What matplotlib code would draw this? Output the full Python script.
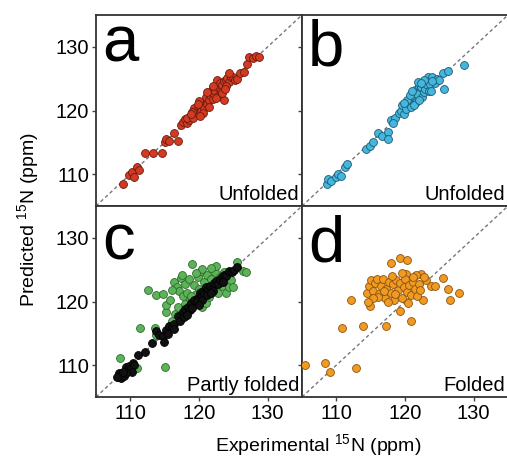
import matplotlib
matplotlib.use("Agg")
import matplotlib.pyplot as plt

plt.rcParams['font.family'] = ['Liberation Sans', 'DejaVu Sans']
plt.rcParams['mathtext.fontset'] = 'custom'
plt.rcParams['mathtext.rm'] = 'Liberation Sans'
plt.rcParams['mathtext.it'] = 'Liberation Sans:italic'
plt.rcParams['mathtext.bf'] = 'Liberation Sans:bold'

# ---------------- data ----------------
a_x = [108.9, 109.8, 110.2, 110.5, 110.9, 111.2, 112.1, 113.3, 114.6, 115.0, 115.2, 115.6, 116.4, 116.9,
       117.4, 117.6, 117.9, 118.3, 118.6, 118.2, 119.1, 119.3, 119.6, 119.9, 120.1, 120.3, 120.5, 120.8,
       121.0, 121.2, 121.4, 121.6, 121.9, 122.0, 122.2, 122.4, 122.6, 122.7, 122.9, 123.0, 123.2, 123.4,
       123.6, 123.7, 123.9, 124.1, 124.3, 124.6, 124.9, 125.2, 125.6, 126.0, 126.6, 127.0, 127.3, 127.9,
       128.3, 128.8, 119.0, 120.0, 121.5, 122.5, 123.3, 124.0, 121.1, 120.6, 119.8, 122.1, 123.8, 124.4,
       118.9, 120.2]
a_y = [108.4, 109.8, 110.3, 109.6, 111.1, 110.6, 113.3, 113.3, 113.3, 115.0, 115.6, 115.2, 116.4, 115.2,
       117.7, 118.2, 118.6, 118.0, 118.5, 118.9, 118.8, 120.4, 120.0, 119.6, 120.5, 120.0, 121.0, 120.4,
       122.1, 121.0, 121.6, 122.4, 123.2, 121.8, 122.6, 123.0, 124.8, 122.2, 123.5, 124.3, 123.0, 124.0,
       124.6, 121.6, 124.8, 125.1, 124.4, 125.3, 125.3, 124.8, 125.0, 125.9, 126.1, 127.3, 128.4, 128.2,
       128.5, 128.4, 119.8, 121.5, 120.6, 121.9, 122.8, 123.9, 122.9, 119.6, 121.0, 123.9, 123.4, 125.9,
       119.4, 119.2]

b_x = [108.6, 108.8, 109.2, 110.0, 110.3, 110.7, 111.2, 111.6, 114.3, 114.9, 115.4, 116.1, 116.6, 117.5,
       117.5, 118.0, 118.6, 119.1, 119.4, 119.6, 119.9, 120.2, 120.4, 120.6, 120.9, 121.1, 121.4, 121.6,
       121.8, 122.0, 122.3, 122.5, 122.7, 122.9, 123.1, 123.3, 123.5, 123.7, 123.9, 124.3, 124.6, 125.0,
       125.5, 125.7, 126.3, 128.6, 120.3, 121.3, 122.1, 121.9, 122.8, 123.8, 120.8, 119.8, 124.0, 118.3,
       121.0, 122.4]
b_y = [108.5, 109.3, 108.9, 109.5, 110.0, 109.7, 111.2, 111.6, 114.0, 114.5, 115.0, 116.4, 116.0, 116.6,
       115.6, 118.5, 118.8, 119.6, 120.0, 120.8, 119.5, 120.3, 121.1, 121.8, 120.6, 122.2, 123.2, 121.3,
       122.6, 123.9, 123.7, 122.1, 122.9, 123.4, 124.2, 125.2, 123.1, 124.1, 125.3, 124.3, 125.0, 124.8,
       125.9, 123.3, 126.2, 127.1, 121.7, 120.9, 121.6, 124.4, 124.8, 123.0, 122.4, 121.1, 124.7, 118.0,
       123.0, 124.3]

c_black_x = [108.2, 108.5, 108.7, 108.9, 109.1, 109.4, 109.6, 109.8, 110.1, 110.4, 110.6, 110.2, 109.3, 108.4,
             111.1, 113.8, 114.2, 114.8, 115.2, 115.6, 116.0, 116.4, 116.9, 117.2, 117.6, 118.0, 118.4, 118.7,
             118.9, 119.2, 119.5, 119.8, 120.1, 120.3, 120.6, 120.8, 121.0, 121.3, 121.6, 121.9, 122.2, 122.5,
             122.8, 123.0, 123.3, 123.6, 124.0, 124.4, 124.8, 125.1, 125.6, 119.0, 119.7, 120.5, 121.2, 122.0,
             114.9, 116.3, 117.8, 115.5, 118.2, 120.0, 121.7, 123.5, 109.0, 108.0, 112.2, 113.2]
c_black_y = [108.1, 108.4, 108.0, 108.6, 108.3, 109.7, 109.2, 109.8, 109.6, 110.3, 110.0, 108.9, 108.8, 108.8,
             111.6, 115.3, 114.7, 114.6, 115.5, 116.2, 116.0, 116.5, 117.7, 117.0, 118.4, 118.9, 119.2, 118.6,
             119.8, 120.3, 119.6, 120.6, 121.4, 120.7, 121.7, 121.2, 122.2, 121.8, 122.5, 122.0, 122.9, 123.2,
             122.7, 123.5, 123.8, 124.2, 124.0, 124.8, 124.6, 125.0, 125.4, 119.0, 120.1, 120.2, 121.0, 121.7,
             113.7, 115.7, 117.6, 114.9, 117.9, 119.5, 121.3, 123.0, 109.0, 108.2, 112.0, 113.5]

c_green_x = [108.5, 110.9, 115.0, 111.4, 113.6, 113.8, 112.6, 113.8, 114.7, 115.2, 115.2, 115.8, 116.4, 116.8,
             117.1, 117.4, 117.7, 117.9, 118.2, 118.5, 118.7, 119.0, 119.2, 119.5, 119.8, 120.0, 120.3, 120.5,
             120.5, 120.7, 121.0, 121.2, 121.5, 121.7, 122.0, 122.3, 122.5, 122.7, 123.0, 123.3, 123.6, 124.0,
             124.4, 124.6, 125.0, 125.6, 126.4, 126.8, 116.1, 116.5, 117.0, 118.0, 118.9, 119.6, 121.8, 117.5,
             116.0, 120.2]
c_green_y = [111.1, 109.5, 109.7, 115.9, 115.9, 114.8, 121.8, 121.0, 121.1, 118.3, 119.5, 120.3, 123.1, 122.3,
             121.6, 123.7, 120.8, 122.8, 121.3, 123.5, 120.2, 125.9, 122.6, 121.2, 123.9, 122.0, 124.8, 125.1,
             119.2, 123.0, 119.8, 124.2, 120.7, 123.5, 122.1, 124.6, 125.6, 121.3, 123.9, 122.4, 124.6, 121.4,
             122.2, 123.4, 122.3, 126.2, 124.8, 124.6, 117.0, 118.0, 119.2, 119.6, 120.9, 124.5, 125.3, 124.2,
             121.8, 121.5]

d_x = [105.4, 108.3, 109.1, 112.9, 110.8, 113.9, 117.3, 120.9, 119.3, 112.1, 114.9, 118.0, 119.2, 120.3,
       120.2, 125.5, 126.3, 127.8, 126.5, 122.6, 122.3, 123.8, 123.0, 114.5, 114.8, 115.0, 115.3, 115.6,
       115.9, 116.2, 116.5, 116.8, 117.1, 117.3, 117.6, 117.9, 118.2, 118.4, 118.7, 119.0, 119.2, 119.5,
       119.8, 120.0, 120.3, 120.6, 120.9, 121.1, 121.4, 121.7, 122.0, 122.2, 122.8, 124.3, 121.6, 116.0,
       117.5, 118.6, 119.6, 121.2, 115.4, 116.9, 120.5, 118.1, 114.6]
d_y = [110.0, 110.3, 108.9, 109.6, 115.8, 116.1, 116.1, 116.9, 118.5, 120.2, 119.3, 126.1, 126.8, 126.5,
       124.3, 123.7, 121.9, 121.4, 120.2, 120.2, 124.3, 122.4, 123.3, 121.4, 122.4, 123.3, 121.7, 122.9,
       123.5, 121.2, 122.5, 123.6, 120.5, 122.0, 123.0, 121.4, 122.7, 120.3, 123.4, 121.8, 122.9, 120.6,
       122.2, 123.6, 121.5, 122.6, 121.0, 123.0, 122.0, 120.9, 122.8, 121.8, 123.8, 122.5, 124.1, 120.7,
       119.9, 121.1, 124.4, 123.9, 120.5, 121.7, 119.8, 124.0, 120.0]

panel_letters = ['a', 'b', 'c', 'd']
panel_names = ['Unfolded', 'Unfolded', 'Partly folded', 'Folded']
ticks = [110, 120, 130]
lims = [105, 135]

# ---------------- figure ----------------
fig = plt.figure(figsize=(5.07, 4.58), dpi=100)
W, H = 507, 458
pw, ph = 206, 191
lefts = [96, 302]
tops = [15, 206]

axes = []
for r in range(2):
    for c in range(2):
        ax = fig.add_axes([lefts[c] / W, 1 - (tops[r] + ph) / H, pw / W, ph / H])
        axes.append(ax)

series = [
    [(a_x, a_y, '#d23a22', '#6a1a0e')],
    [(b_x, b_y, '#45b6dd', '#1d5a72')],
    [(c_green_x, c_green_y, '#5db35a', '#2c6a2a'), (c_black_x, c_black_y, '#111111', '#000000')],
    [(d_x, d_y, '#f09a22', '#8a520c')],
]
letter_base = [0.755, 0.735, 0.72, 0.71]

for i, ax in enumerate(axes):
    ax.plot(lims, lims, ls=(0, (2.5, 2.0)), color='#777777', lw=1.0, zorder=1)
    for xs, ys, fc, ec in series[i]:
        ax.scatter(xs, ys, s=32, c=fc, edgecolors=ec, linewidths=0.6, zorder=3)
    ax.set_xlim(lims)
    ax.set_ylim(lims)
    ax.set_xticks(ticks)
    ax.set_yticks(ticks)
    ax.tick_params(direction='out', length=3, width=1, color='#444444', labelsize=14.5, pad=2)
    r, c = divmod(i, 2)
    if r == 0:
        ax.tick_params(labelbottom=False)
    if c == 1:
        ax.tick_params(labelleft=False)
    for sp in ax.spines.values():
        sp.set_linewidth(1.3)
        sp.set_color('#333333')
    ax.text(0.03, letter_base[i], panel_letters[i], transform=ax.transAxes, fontsize=47,
            va='baseline', ha='left', color='black')
    ax.text(0.985, 0.03, panel_names[i], transform=ax.transAxes, fontsize=14.5,
            va='baseline', ha='right', color='black')

fig.text(318 / W, 1 - 451 / H, r'Experimental $^{15}$N (ppm)', fontsize=14, ha='center', va='baseline')
fig.text(28 / W, 1 - 220 / H, r'Predicted $^{15}$N (ppm)', fontsize=14, ha='center', va='center',
         rotation=90)

fig.savefig('out.png', dpi=100)
